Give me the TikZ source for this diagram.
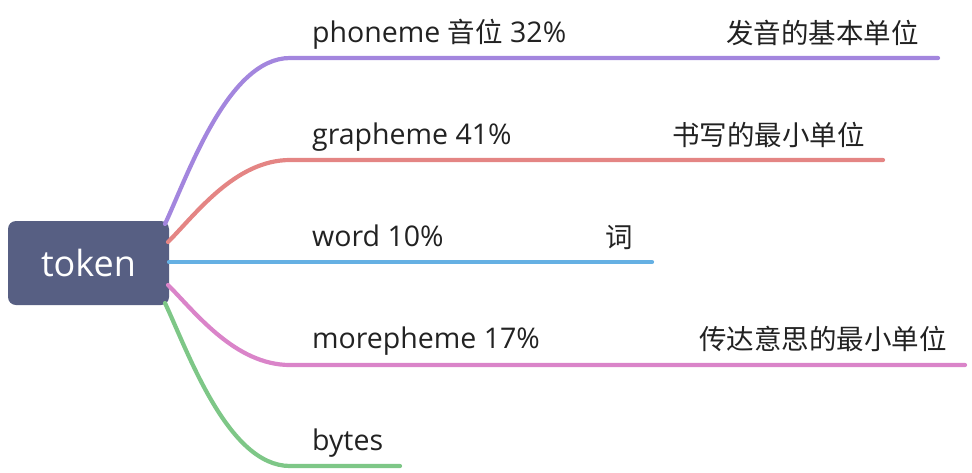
\documentclass[tikz,border=0pt]{standalone}
\usepackage{fontspec}
\setmainfont{Open Sans}
\newfontfamily\cjk{Noto Sans CJK SC}
\definecolor{cTok}{HTML}{575F83}
\definecolor{cP}{HTML}{A386DE}
\definecolor{cR}{HTML}{E48584}
\definecolor{cB}{HTML}{65B0E3}
\definecolor{cK}{HTML}{DA84C9}
\definecolor{cG}{HTML}{7EC787}
\definecolor{cTxt}{HTML}{222222}
\begin{document}
\begin{tikzpicture}[x=1pt,y=-1pt,
  tokenbox/.style={fill=cTok,rounded corners=8pt,minimum width=161pt,minimum height=84pt,inner sep=0pt,text=white,font=\fontsize{36}{40}\selectfont},
  lbl/.style={anchor=base west,inner sep=0pt,text=cTxt,font=\fontsize{28.5}{32}\selectfont},
  rlbl/.style={anchor=base east,inner sep=0pt,text=cTxt,font=\fontsize{27.5}{32}\selectfont\cjk},
  branch/.style={line width=4.2pt,line cap=round,draw=#1}]
\useasboundingbox (0,0) rectangle (972,472);
\node[tokenbox] (token) at (88.5,263) {token};
% coordinates
\coordinate (sP) at (165,224);
\coordinate (hP) at (290,58);
\coordinate (eP) at (938,58);
\coordinate (sR) at (168,242);
\coordinate (hR) at (290,160);
\coordinate (eR) at (883,160);
\coordinate (sB) at (169,262);
\coordinate (eB) at (652,262);
\coordinate (sK) at (168,285);
\coordinate (hK) at (290,365);
\coordinate (eK) at (965,365);
\coordinate (sG) at (165,303);
\coordinate (hG) at (290,466);
\coordinate (eG) at (400,466);
% branches
\draw[branch=cP] (sP) .. controls (188,175) and (228,58) .. (hP) -- (eP);
\draw[branch=cR] (sR) .. controls (195,215) and (235,160) .. (hR) -- (eR);
\draw[branch=cB] (sB) -- (eB);
\draw[branch=cK] (sK) .. controls (195,312) and (235,365) .. (hK) -- (eK);
\draw[branch=cG] (sG) .. controls (188,352) and (228,466) .. (hG) -- (eG);
% labels
\node[lbl] (tP) at (312,42) {phoneme {\fontsize{27.5}{32}\selectfont\cjk 音位} 32\%};
\node[rlbl] (rP) at (919,43) {发音的基本单位};
\node[lbl] (tR) at (312,144) {grapheme 41\%};
\node[rlbl] (rR) at (865,145) {书写的最小单位};
\node[lbl] (tB) at (312,246) {word 10\%};
\node[rlbl] (rB) at (633,247) {词};
\node[lbl] (tK) at (312,348) {morepheme 17\%};
\node[rlbl] (rK) at (947,349) {传达意思的最小单位};
\node[lbl] (tG) at (312,450) {bytes};
\end{tikzpicture}
\end{document}
